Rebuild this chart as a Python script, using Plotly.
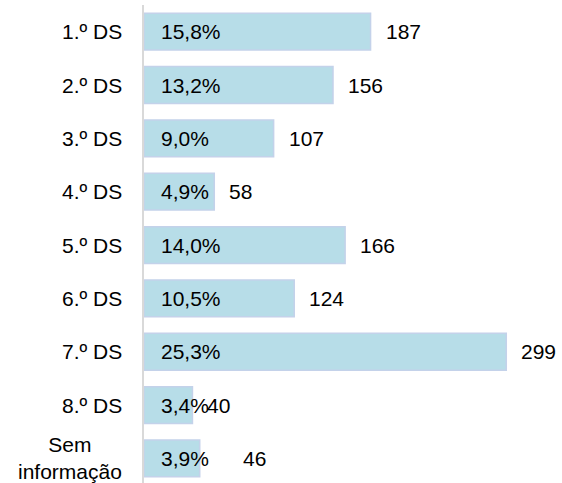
import plotly.graph_objects as go

categories = ["1.º DS", "2.º DS", "3.º DS", "4.º DS", "5.º DS", "6.º DS", "7.º DS", "8.º DS", "Sem<br>informação"]
counts = [187, 156, 107, 58, 166, 124, 299, 40, 46]
percents = ["15,8%", "13,2%", "9,0%", "4,9%", "14,0%", "10,5%", "25,3%", "3,4%", "3,9%"]

FONT = "Liberation Sans, Arial, sans-serif"
FS = 21

fig = go.Figure()
fig.add_trace(go.Bar(
    y=categories, x=counts, orientation="h",
    marker=dict(color="#b7dde8", line=dict(color="#c4d2ea", width=1.5)),
    hoverinfo="skip",
))

ann = []
for i, (c, v, p) in enumerate(zip(categories, counts, percents)):
    ann.append(dict(x=0, xref="paper", y=c, yref="y", text=c, showarrow=False,
                    xanchor="right", xshift=-20, align="center",
                    font=dict(family=FONT, size=FS, color="#000")))
    ann.append(dict(x=0, xref="x", y=c, yref="y", text=p, showarrow=False,
                    xanchor="left", xshift=15,
                    font=dict(family=FONT, size=FS, color="#000")))
    extra = 28 if i == len(categories) - 1 else 0
    ann.append(dict(x=v, xref="x", y=c, yref="y", text=str(v), showarrow=False,
                    xanchor="left", xshift=13 + extra,
                    font=dict(family=FONT, size=FS, color="#000")))

fig.update_layout(
    width=562, height=483,
    margin=dict(l=144, r=0, t=5, b=0),
    paper_bgcolor="white", plot_bgcolor="white",
    showlegend=False,
    bargap=0.31,
    annotations=ann,
    xaxis=dict(range=[0, 345], showgrid=False, zeroline=False, showticklabels=False,
               showline=False, fixedrange=True),
    yaxis=dict(type="category", categoryorder="array", categoryarray=categories,
               range=[8.46, -0.5], showgrid=False, zeroline=False, showticklabels=False,
               showline=True, linecolor="#d9d9d9", linewidth=2, ticks="", fixedrange=True),
)

fig.write_html("out.html", config={"displayModeBar": False, "staticPlot": True},
               post_script="document.body.style.margin='0';document.body.style.overflow='hidden';")
